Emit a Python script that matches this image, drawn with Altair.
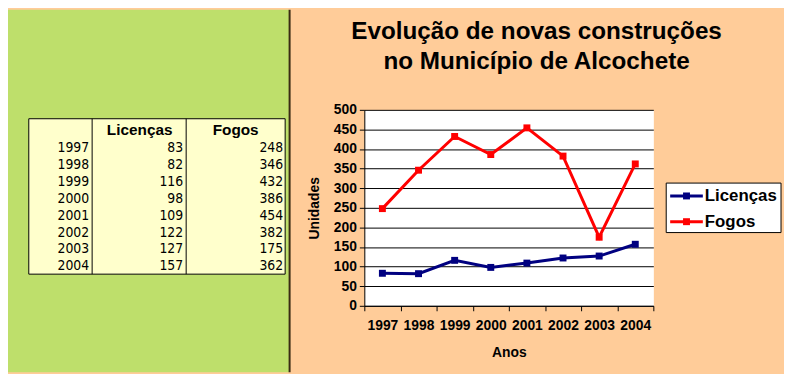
import altair as alt
import pandas as pd

# ---- data ----
years = ["1997", "1998", "1999", "2000", "2001", "2002", "2003", "2004"]
licencas = [83, 82, 116, 98, 109, 122, 127, 157]
fogos = [248, 346, 432, 386, 454, 382, 175, 362]
series = ["Licenças", "Fogos"]
colors = ["#000080", "#FF0000"]
y_ticks = [0, 50, 100, 150, 200, 250, 300, 350, 400, 450, 500]
title_lines = ["Evolução de novas construções", "no Município de Alcochete"]

FONT = "Liberation Sans, Arial, sans-serif"
NARROW = "Liberation Sans Narrow, Arial Narrow, DejaVu Sans Condensed, sans-serif"

table_df = pd.DataFrame({"year": years, "lic": licencas, "fog": fogos})
long_df = pd.DataFrame({
    "year": years + years,
    "serie": [series[0]] * len(years) + [series[1]] * len(years),
    "valor": licencas + fogos,
})
legend_df = pd.DataFrame({"serie": series})
one = pd.DataFrame({"a": [0]})

# ---- line chart ----
color = alt.Color("serie:N", scale=alt.Scale(domain=series, range=colors), legend=None)
base = alt.Chart(long_df).encode(
    x=alt.X("year:O", bandPosition=0.5,
            scale=alt.Scale(type="band", paddingInner=0, paddingOuter=0, domain=years),
            axis=alt.Axis(title="Anos", labelAngle=0, tickBand="extent", tickSize=5,
                          tickColor="black", domainColor="black", labelPadding=8,
                          titlePadding=13, labelFontSize=14, titleFontSize=14,
                          labelFontWeight="bold", titleFontWeight="bold", grid=False)),
    y=alt.Y("valor:Q", scale=alt.Scale(domain=[0, 500], nice=False),
            axis=alt.Axis(title="Unidades", values=y_ticks, tickSize=5, tickColor="black",
                          domainColor="black", gridColor="black", gridOpacity=1, grid=True,
                          labelPadding=3, titlePadding=12, labelFontSize=14,
                          titleFontSize=14, labelFontWeight="bold", titleFontWeight="bold")),
    color=color,
)
lines = base.mark_line(strokeWidth=3)
pts = base.mark_point(shape="square", filled=True, size=49, opacity=1)
chart_layer = alt.layer(lines, pts)

# ---- decorative panels ----
green = alt.Chart(one).mark_rect(color="#BEDF6B").encode(
    x=alt.value(-360), x2=alt.value(-76), y=alt.value(-101), y2=alt.value(265))
divider = alt.Chart(one).mark_rule(color="#3a2a14", strokeWidth=2).encode(
    x=alt.value(-75.5), y=alt.value(-101), y2=alt.value(265))

# ---- table ----
tbl_box = alt.Chart(one).mark_rect(fill="#FFFFCC", stroke="black", strokeWidth=1).encode(
    x=alt.value(-339), x2=alt.value(-80), y=alt.value(9), y2=alt.value(166))
col1 = alt.Chart(one).mark_rule(color="black", strokeWidth=1).encode(
    x=alt.value(-275), y=alt.value(9), y2=alt.value(166))
col2 = alt.Chart(one).mark_rule(color="black", strokeWidth=1).encode(
    x=alt.value(-180), y=alt.value(9), y2=alt.value(166))
hdr1 = alt.Chart(one).mark_text(text=series[0], font=FONT, fontSize=15.5, fontWeight="bold",
                                align="center", baseline="middle").encode(
    x=alt.value(-227), y=alt.value(20))
hdr2 = alt.Chart(one).mark_text(text=series[1], font=FONT, fontSize=15.5, fontWeight="bold",
                                align="center", baseline="middle").encode(
    x=alt.value(-130), y=alt.value(20))

row_y = alt.Y("year:O", scale=alt.Scale(type="point", domain=years, range=[39, 158], padding=0),
              axis=None)
tbase = alt.Chart(table_df).mark_text(font=NARROW, fontSize=14, align="right",
                                      baseline="middle", color="black")
t_year = tbase.encode(x=alt.value(-278), y=row_y, text="year:N")
t_lic = tbase.encode(x=alt.value(-183), y=row_y, text="lic:Q")
t_fog = tbase.encode(x=alt.value(-82), y=row_y, text="fog:Q")

# ---- legend ----
leg_y = alt.Y("serie:N", scale=alt.Scale(type="point", domain=series, range=[87, 113], padding=0),
              axis=None)
leg_box = alt.Chart(one).mark_rect(fill="white", stroke="black", strokeWidth=1).encode(
    x=alt.value(305), x2=alt.value(421), y=alt.value(74), y2=alt.value(124))
leg_line = alt.Chart(legend_df).mark_rule(strokeWidth=3).encode(
    x=alt.value(309), x2=alt.value(342), y=leg_y, color=color)
leg_pt = alt.Chart(legend_df).mark_point(shape="square", filled=True, size=49, opacity=1).encode(
    x=alt.value(325.5), y=leg_y, color=color)
leg_txt = alt.Chart(legend_df).mark_text(font=FONT, fontSize=17, fontWeight="bold",
                                         align="left", baseline="middle", color="black").encode(
    x=alt.value(344), y=leg_y, text="serie:N")

# ---- title ----
t1 = alt.Chart(one).mark_text(text=title_lines[0], font=FONT, fontSize=24.5, fontWeight="bold",
                              align="center", baseline="middle", color="black").encode(
    x=alt.value(174), y=alt.value(-79))
t2 = alt.Chart(one).mark_text(text=title_lines[1], font=FONT, fontSize=24.5, fontWeight="bold",
                              align="center", baseline="middle", color="black").encode(
    x=alt.value(174), y=alt.value(-48))

chart = alt.layer(
    green, divider, tbl_box, col1, col2, hdr1, hdr2, t_year, t_lic, t_fog,
    t1, t2, chart_layer, leg_box, leg_line, leg_pt, leg_txt,
).resolve_scale(y="independent").properties(
    width=292, height=198,
    background="#FFCC99",
    padding={"left": 360, "top": 101, "right": 132, "bottom": 67},
    autosize=alt.AutoSizeParams(type="none"),
).configure_view(fill="white", stroke="transparent").configure_axis(
    labelFont=FONT, titleFont=FONT, labelColor="black", titleColor="black"
).configure_text(font=FONT)

chart.save("out.html", embed_options={"renderer": "svg", "actions": False})
